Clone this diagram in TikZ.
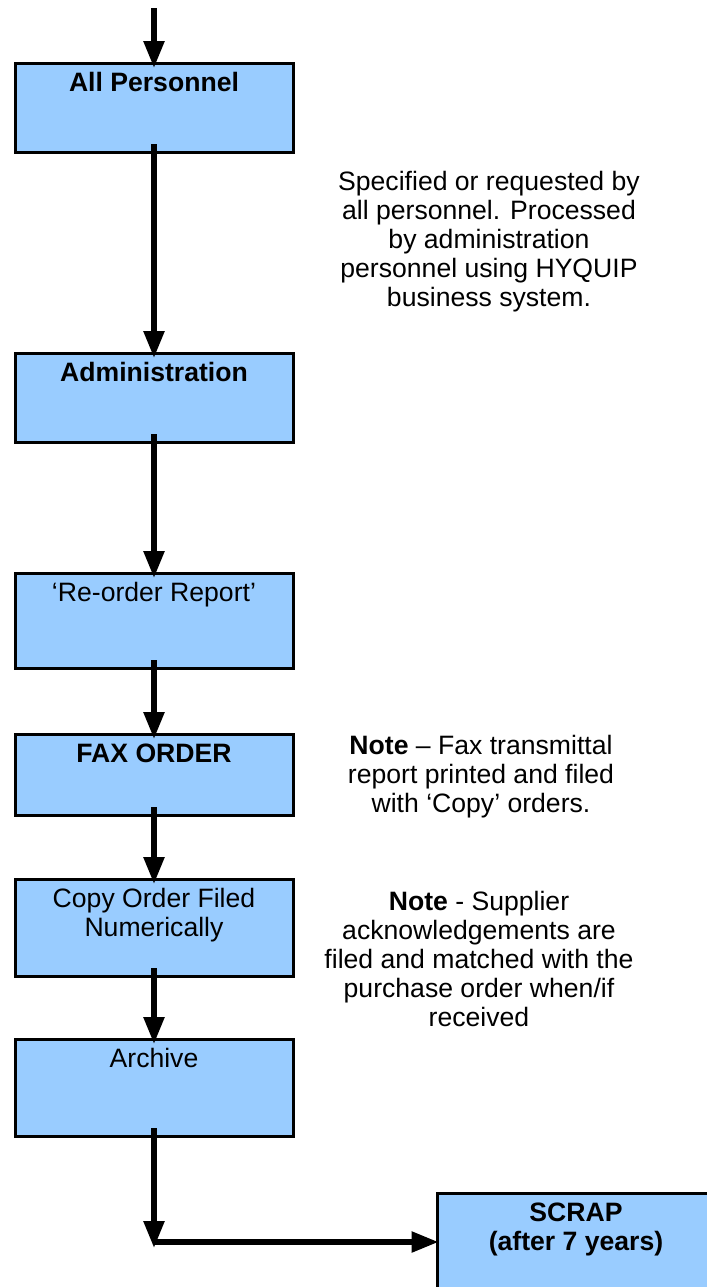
\documentclass[tikz,border=0pt]{standalone}
\usepackage{fontspec}
\setmainfont{Liberation Sans}
\usetikzlibrary{arrows.meta, positioning, calc}

\definecolor{boxblue}{RGB}{153,204,255}
\newcommand{\chartfont}{\fontsize{13.3}{14.5}\selectfont}

\begin{document}
\begin{tikzpicture}[
        node distance=30pt,
        % --- Styles ---
        box/.style={rectangle, draw=black, fill=boxblue, line width=1.5pt, minimum width=139pt, inner xsep=2pt, inner ysep=0pt, text height=14pt, align=center, font=\chartfont},
        heading/.style={box, font=\chartfont\bfseries},
        twoline/.style={text height=28.5pt, text depth=20pt},
        note/.style={align=center, font=\chartfont, inner sep=0pt},
        % --- Line Styles ---
        flow/.style={draw, ->, >={Triangle[width=10pt, length=13.5pt]}, line width=2.75pt}
    ]
        \useasboundingbox (0,0) rectangle (353.5pt,-643.5pt);
        \clip (0,0) rectangle (353.5pt,-643.5pt);

        % --- Main column ---
        \node[heading, text depth=30.5pt, anchor=north] (allp) at (77pt,-31pt) {All Personnel};
        \node[heading, text depth=30.5pt, below=99pt of allp] (admin) {Administration};
        \node[box, text depth=33.5pt, below=64pt of admin] (reorder) {‘Re-order Report’};
        \node[heading, text depth=26.5pt, below=31.5pt of reorder] (fax) {FAX ORDER};
        \node[box, twoline, below=30.5pt of fax] (copy) {Copy Order Filed\\Numerically};
        \node[box, text depth=34.5pt, below=of copy] (archive) {Archive};
        \node[heading, twoline, below right=27pt and 70.5pt of archive] (scrap) {SCRAP\\(after 7 years)};

        % --- Notes ---
        \node[note] (hyquip) at (244.5pt,-121pt) {Specified or requested by\\all personnel. Processed\\by administration\\personnel using HYQUIP\\business system.};
        \node[note] (faxnote) at (240.5pt,-388.5pt) {\textbf{Note} – Fax transmittal\\report printed and filed\\with ‘Copy’ orders.};
        \node[note] (acknote) at (239.5pt,-479.5pt) {\textbf{Note} - Supplier\\acknowledgements are\\filed and matched with the\\purchase order when/if\\received};

        % --- Connections ---
        \coordinate (entry) at (77pt,-4pt);
        \coordinate (turn) at (77pt,-624pt);
        \draw[flow] (entry) -- ([yshift=-3pt]allp.north);
        \draw[flow] ([yshift=5pt]allp.south) -- ([yshift=-3pt]admin.north);
        \draw[flow] ([yshift=5pt]admin.south) -- ([yshift=-3pt]reorder.north);
        \draw[flow] ([yshift=5pt]reorder.south) -- ([yshift=-3pt]fax.north);
        \draw[flow] ([yshift=5pt]fax.south) -- ([yshift=-3pt]copy.north);
        \draw[flow] ([yshift=5pt]copy.south) -- ([yshift=-3pt]archive.north);
        \draw[flow] ([yshift=5pt]archive.south) -- (turn);
        \draw[flow] (turn |- scrap.west) -- ([xshift=1.5pt]scrap.west);

    \end{tikzpicture}
\end{document}
